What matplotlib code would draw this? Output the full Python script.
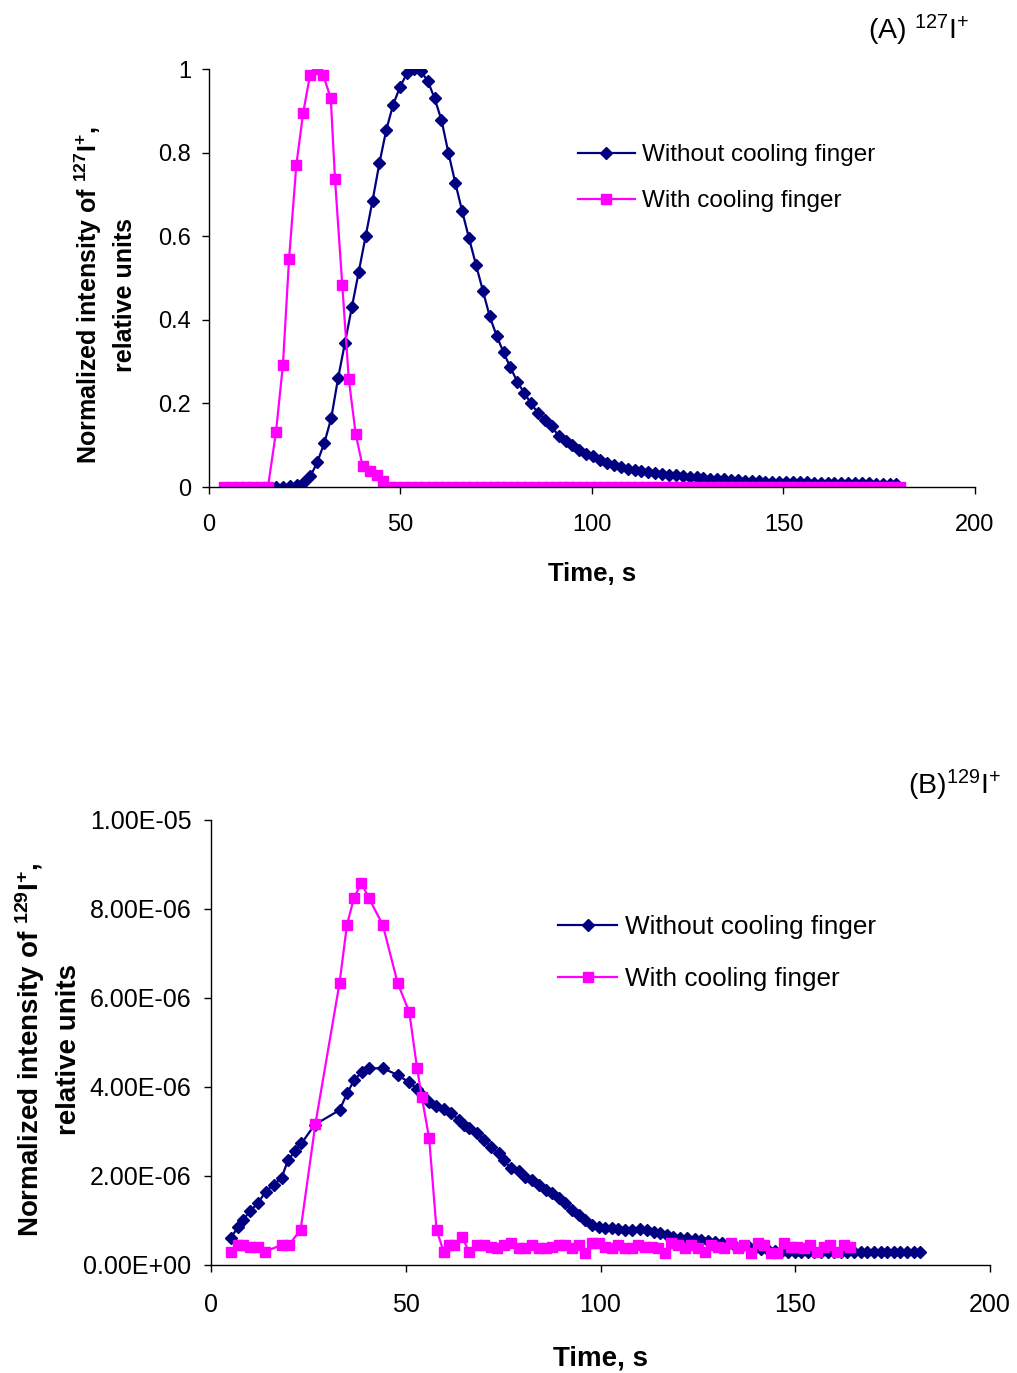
import matplotlib
matplotlib.use('Agg')
import matplotlib.pyplot as plt

plt.rcParams['font.family'] = ['Liberation Sans', 'DejaVu Sans']
plt.rcParams['mathtext.default'] = 'regular'

# (A) 127I+ , time in s, normalized intensity
t_a_wo = [17.5, 19.3, 21.1, 22.9, 24.7, 26.5, 28.3, 30.1, 31.9, 33.7,
          35.5, 37.3, 39.1, 40.9, 42.7, 44.5, 46.3, 48.1, 49.9, 51.7,
          53.5, 55.3, 57.1, 58.9, 60.7, 62.5, 64.3, 66.1, 67.9, 69.7,
          71.5, 73.3, 75.1, 76.9, 78.7, 80.5, 82.3, 84.1, 85.9, 87.7,
          89.5, 91.3, 93.1, 94.9, 96.7, 98.5, 100.3, 102.1, 103.9, 105.7,
          107.5, 109.3, 111.1, 112.9, 114.7, 116.5, 118.3, 120.1, 121.9, 123.7,
          125.5, 127.3, 129.1, 130.9, 132.7, 134.5, 136.3, 138.1, 139.9, 141.7,
          143.5, 145.3, 147.1, 148.9, 150.7, 152.5, 154.3, 156.1, 157.9, 159.7,
          161.5, 163.3, 165.1, 166.9, 168.7, 170.5, 172.3, 174.1, 175.9, 177.7,
          179.5]
i_a_wo = [0.0, 0.0, 0.002, 0.005, 0.012, 0.026, 0.060, 0.105, 0.164, 0.26,
          0.345, 0.43, 0.515, 0.60, 0.685, 0.775, 0.855, 0.915, 0.958, 0.99,
          1.0, 0.995, 0.972, 0.930, 0.878, 0.80, 0.728, 0.66, 0.595, 0.532,
          0.47, 0.408, 0.362, 0.322, 0.286, 0.252, 0.225, 0.200, 0.177, 0.161,
          0.145, 0.122, 0.111, 0.100, 0.089, 0.080, 0.075, 0.065, 0.057, 0.053,
          0.048, 0.043, 0.040, 0.038, 0.036, 0.033, 0.031, 0.029, 0.028, 0.026,
          0.024, 0.023, 0.021, 0.020, 0.019, 0.018, 0.017, 0.016, 0.015, 0.015,
          0.014, 0.013, 0.013, 0.012, 0.012, 0.011, 0.011, 0.011, 0.010, 0.010,
          0.010, 0.010, 0.009, 0.009, 0.009, 0.009, 0.009, 0.008, 0.008, 0.008,
          0.008]

t_a_w = [4.0, 5.9, 7.8, 9.7, 11.6, 13.5, 15.4,
         17.5, 19.3, 20.9, 22.8, 24.6, 26.4, 28.1, 29.8, 31.8, 32.9,
         34.8, 36.5, 38.3, 40.1, 42.0, 43.8, 45.5, 47.3,
         49.1, 50.9, 52.7, 54.5, 56.3, 58.1, 59.9, 61.7, 63.5, 65.3,
         67.1, 68.9, 70.7, 72.5, 74.3, 76.1, 77.9, 79.7, 81.5, 83.3,
         85.1, 86.9, 88.7, 90.5, 92.3, 94.1, 95.9, 97.7, 99.5, 101.3,
         103.1, 104.9, 106.7, 108.5, 110.3, 112.1, 113.9, 115.7, 117.5, 119.3,
         121.1, 122.9, 124.7, 126.5, 128.3, 130.1, 131.9, 133.7, 135.5, 137.3,
         139.1, 140.9, 142.7, 144.5, 146.3, 148.1, 149.9, 151.7, 153.5, 155.3,
         157.1, 158.9, 160.7, 162.5, 164.3, 166.1, 167.9, 169.7, 171.5, 173.3,
         175.1, 176.9, 178.7, 180.5]
i_a_w = [0, 0, 0, 0, 0, 0, 0,
         0.132, 0.292, 0.545, 0.770, 0.896, 0.986, 1.0, 0.986, 0.930, 0.737,
         0.483, 0.258, 0.127, 0.050, 0.039, 0.028, 0.015, 0.0,
         0, 0, 0, 0, 0, 0, 0, 0, 0, 0,
         0, 0, 0, 0, 0, 0, 0, 0, 0, 0,
         0, 0, 0, 0, 0, 0, 0, 0, 0, 0,
         0, 0, 0, 0, 0, 0, 0, 0, 0, 0,
         0, 0, 0, 0, 0, 0, 0, 0, 0, 0,
         0, 0, 0, 0, 0, 0, 0, 0, 0, 0,
         0, 0, 0, 0, 0, 0, 0, 0, 0, 0,
         0, 0, 0, 0]

# (B) 129I+ , intensity in units of 1e-6
t_b_wo = [5.0, 7.0, 8.1, 10.1, 12.1, 14.0, 16.1, 18.1, 19.8, 21.5,
          23.2, 26.6, 33.0, 35.0, 36.8, 38.8, 40.5, 44.1, 47.9, 50.9,
          53.0, 54.5, 56.0, 57.7, 59.8, 61.6, 63.7, 65.0, 66.2, 68.4,
          70.1, 71.8, 73.9, 75.2, 76.9, 79.0, 80.7, 82.4, 84.1, 85.9,
          87.5, 89.3, 91.0, 92.7, 94.4, 96.1, 97.8, 99.5, 101.2, 102.9,
          104.6, 106.3, 108.0, 110.2, 111.9, 113.6, 115.3, 117.0, 118.7, 120.4,
          122.1, 124.2, 125.9, 127.6, 129.3, 131.1, 132.8, 134.5, 136.2, 137.9,
          139.6, 141.3, 143.0, 144.7, 146.4, 148.1, 149.8, 151.5, 153.2, 154.9,
          156.6, 158.3, 160.0, 161.7, 163.4, 165.1, 166.8, 168.5, 170.2, 171.9,
          173.6, 175.3, 177.0, 178.7, 180.4, 182.1]
i_b_wo = [0.61, 0.85, 1.00, 1.22, 1.39, 1.65, 1.80, 1.96, 2.36, 2.55,
          2.73, 3.15, 3.48, 3.87, 4.16, 4.34, 4.42, 4.42, 4.27, 4.10,
          3.95, 3.80, 3.67, 3.57, 3.50, 3.41, 3.26, 3.15, 3.07, 2.96,
          2.81, 2.66, 2.51, 2.36, 2.17, 2.10, 1.98, 1.91, 1.80, 1.69,
          1.61, 1.50, 1.39, 1.24, 1.12, 1.01, 0.90, 0.86, 0.82, 0.82,
          0.80, 0.79, 0.79, 0.80, 0.79, 0.75, 0.71, 0.67, 0.62, 0.60,
          0.60, 0.58, 0.56, 0.54, 0.52, 0.50, 0.47, 0.43, 0.42, 0.42,
          0.37, 0.35, 0.33, 0.31, 0.30, 0.30, 0.29, 0.29, 0.30, 0.30,
          0.29, 0.30, 0.30, 0.29, 0.30, 0.30, 0.30, 0.30, 0.29, 0.30,
          0.30, 0.30, 0.30, 0.30, 0.30, 0.30]

t_b_w = [5.0, 7.0, 8.1, 10.1, 12.1, 13.9, 18.1, 20.0, 23.0, 26.8,
         33.0, 34.9, 36.7, 38.6, 40.5, 44.1, 47.9, 50.9, 52.9, 54.1,
         56.0, 57.9, 59.7, 61.2, 62.4, 64.5, 66.2, 68.4, 70.1, 71.8,
         73.5, 75.2, 76.9, 79.0, 80.7, 82.4, 84.1, 85.9, 87.6, 89.3,
         91.0, 92.7, 94.4, 96.1, 97.8, 99.5, 101.2, 102.9, 104.6, 106.3,
         108.0, 109.7, 111.4, 113.1, 114.8, 116.5, 118.2, 119.9, 121.6, 123.3,
         125.0, 126.7, 128.4, 130.1, 131.8, 133.5, 135.2, 136.9, 138.6, 140.3,
         142.0, 143.7, 145.4, 147.1, 148.8, 150.5, 152.2, 153.9, 155.6, 157.3,
         159.0, 160.7, 162.4, 164.1]
i_b_w = [0.30, 0.45, 0.45, 0.40, 0.40, 0.30, 0.45, 0.45, 0.79, 3.17,
         6.34, 7.64, 8.25, 8.58, 8.25, 7.64, 6.34, 5.68, 4.42, 3.78,
         2.85, 0.79, 0.30, 0.45, 0.45, 0.62, 0.30, 0.45, 0.45, 0.40,
         0.37, 0.45, 0.49, 0.37, 0.37, 0.45, 0.37, 0.37, 0.41, 0.45,
         0.45, 0.37, 0.45, 0.26, 0.49, 0.49, 0.41, 0.37, 0.45, 0.37,
         0.37, 0.45, 0.41, 0.41, 0.37, 0.26, 0.49, 0.45, 0.37, 0.45,
         0.37, 0.30, 0.45, 0.41, 0.37, 0.49, 0.37, 0.45, 0.26, 0.49,
         0.45, 0.26, 0.26, 0.49, 0.41, 0.41, 0.37, 0.45, 0.30, 0.41,
         0.45, 0.30, 0.45, 0.41]

xticks = [0, 50, 100, 150, 200]
yticks_a = [0, 0.2, 0.4, 0.6, 0.8, 1.0]
ylabels_a = ['0', '0.2', '0.4', '0.6', '0.8', '1']
yticks_b = [0, 2e-6, 4e-6, 6e-6, 8e-6, 1e-5]
ylabels_b = ['0.00E+00', '2.00E-06', '4.00E-06', '6.00E-06', '8.00E-06', '1.00E-05']

navy = '#000080'
mag = '#FF00FF'

fig = plt.figure(figsize=(10.17, 13.73), dpi=100)

def style(ax, fs, xpad, ypad):
    for s in ['top', 'right']:
        ax.spines[s].set_visible(False)
    for s in ['left', 'bottom']:
        ax.spines[s].set_linewidth(1.0)
    ax.tick_params(direction='out', length=5, width=1, labelsize=fs)
    ax.tick_params(axis='x', pad=xpad)
    ax.tick_params(axis='y', pad=ypad)

# ---- panel A
ax1 = fig.add_axes([0.2055, 0.6453, 0.7532, 0.3044])
ax1.plot(t_a_wo, i_a_wo, color=navy, lw=1.6, marker='D', ms=5.8, label='Without cooling finger')
ax1.plot(t_a_w, i_a_w, color=mag, lw=1.6, marker='s', ms=6.5, label='With cooling finger')
ax1.set_xlim(0, 200)
ax1.set_ylim(0, 1.0)
ax1.set_xticks(xticks)
ax1.set_yticks(yticks_a)
ax1.set_yticklabels(ylabels_a)
style(ax1, 17, 14.5, 8)
ax1.set_xlabel('Time, s', fontsize=18.5, fontweight='bold', labelpad=19)
fig.text(0.087, 0.785, 'Normalized intensity of $^{127}$I$^{+}$,', rotation=90,
         fontsize=18, fontweight='bold', ha='center', va='center')
fig.text(0.123, 0.785, 'relative units', rotation=90,
         fontsize=18, fontweight='bold', ha='center', va='center')
fig.text(0.853, 0.978, '(A) $^{127}$I$^{+}$', fontsize=20.5, ha='left', va='center')
ax1.legend(loc='upper left', bbox_to_anchor=(0.568, 0.895), bbox_transform=fig.transFigure,
           frameon=False, fontsize=17.5, handlelength=2.35, handletextpad=0.3,
           labelspacing=1.0, borderpad=0, borderaxespad=0)

# ---- panel B
ax2 = fig.add_axes([0.2075, 0.0787, 0.766, 0.3241])
ax2.plot(t_b_wo, [v * 1e-6 for v in i_b_wo], color=navy, lw=1.6, marker='D', ms=6, label='Without cooling finger')
ax2.plot(t_b_w, [v * 1e-6 for v in i_b_w], color=mag, lw=1.6, marker='s', ms=7.5, label='With cooling finger')
ax2.set_xlim(0, 200)
ax2.set_ylim(0, 1e-5)
ax2.set_xticks(xticks)
ax2.set_yticks(yticks_b)
ax2.set_yticklabels(ylabels_b)
style(ax2, 18, 15, 9)
ax2.set_xlabel('Time, s', fontsize=20, fontweight='bold', labelpad=21)
fig.text(0.030, 0.2353, 'Normalized intensity of $^{129}$I$^{+}$,', rotation=90,
         fontsize=20, fontweight='bold', ha='center', va='center')
fig.text(0.068, 0.2353, 'relative units', rotation=90,
         fontsize=20, fontweight='bold', ha='center', va='center')
fig.text(0.893, 0.428, '(B)$^{129}$I$^{+}$', fontsize=20.5, ha='left', va='center')
ax2.legend(loc='upper left', bbox_to_anchor=(0.5487, 0.3338), bbox_transform=fig.transFigure,
           frameon=False, fontsize=18.8, handlelength=2.26, handletextpad=0.3,
           labelspacing=1.08, borderpad=0, borderaxespad=0)

fig.savefig('out.png', dpi=100)
